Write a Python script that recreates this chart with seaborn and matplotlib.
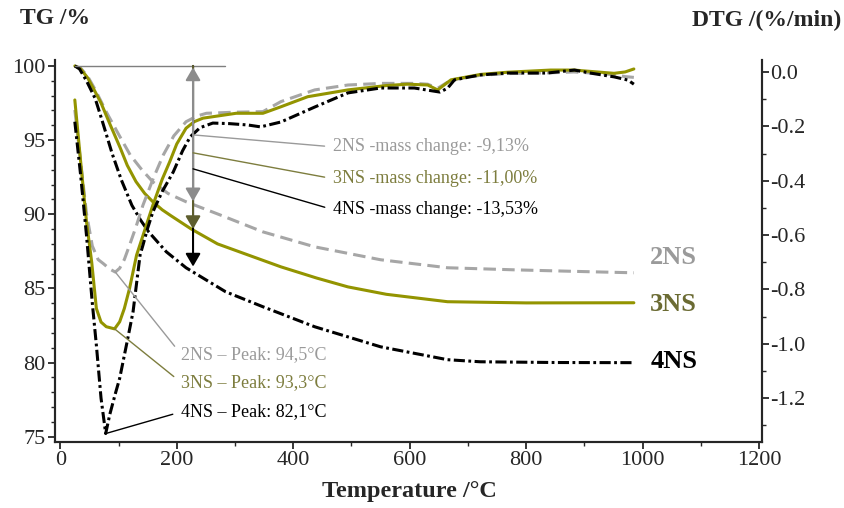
import numpy as np
import pandas as pd
import matplotlib
matplotlib.use("Agg")
import matplotlib.pyplot as plt
import seaborn as sns

# TG curves (mass, %)
tg_2ns_t = [25, 35, 47, 60, 79, 100, 120, 140, 159, 185, 216, 274, 348, 437, 550, 665, 780, 880, 985]
tg_2ns = [100, 99.85, 99.3, 98.4, 96.9, 95.4, 94.0, 93.0, 92.18, 91.4, 90.84, 89.96, 88.81, 87.8,
          86.93, 86.39, 86.25, 86.15, 86.05]

tg_3ns_t = [25, 35, 47, 58, 70, 85, 103, 115, 130, 145, 159, 175, 190, 225, 270, 322, 379, 440,
            494, 560, 665, 800, 985]
tg_3ns = [100, 99.8, 99.2, 98.4, 97.5, 96.1, 94.47, 93.3, 92.2, 91.4, 90.84, 90.3, 89.9, 89.0,
          88.0, 87.26, 86.45, 85.7, 85.1, 84.6, 84.1, 84.02, 84.03]

tg_4ns_t = [25, 33, 45, 60, 72, 89, 105, 123, 138, 152, 182, 216, 284, 348, 437, 550, 665, 721,
            850, 985]
tg_4ns = [100, 99.8, 99.0, 97.8, 96.3, 94.1, 92.3, 90.6, 89.6, 88.8, 87.47, 86.39, 84.77, 83.76,
          82.41, 81.06, 80.19, 80.05, 80.0, 79.99]

# DTG curves (%/min)
dtg_2ns_t = [25, 35, 45, 55, 65, 74, 85, 94.5, 102, 110, 119, 130, 142, 160, 177, 195, 216, 235,
             251, 300, 348, 379, 437, 494, 551, 608, 631, 648, 671, 722, 768, 842, 882, 922, 951,
             970, 985]
dtg_2ns = [-0.14, -0.33, -0.52, -0.64, -0.69, -0.705, -0.725, -0.736, -0.722, -0.69,
           -0.637, -0.57, -0.49, -0.39, -0.305, -0.235, -0.183, -0.162, -0.152, -0.148,
           -0.146, -0.109, -0.066, -0.048, -0.042, -0.042, -0.045, -0.06, -0.03, -0.012,
           -0.006, -0.003, 0.0, -0.005, -0.01, -0.017, -0.02]

dtg_3ns_t = [25, 35, 45, 54, 62, 70, 79, 93.3, 102, 110, 119, 131, 145, 159, 175, 188, 200, 216,
             230, 245, 302, 348, 379, 425, 494, 560, 596, 631, 648, 671, 722, 768, 842, 882, 922,
             951, 970, 985]
dtg_3ns = [-0.103, -0.33, -0.55, -0.70, -0.87, -0.92, -0.937, -0.945, -0.919, -0.87,
           -0.796, -0.674, -0.582, -0.49, -0.395, -0.33, -0.265, -0.207, -0.183, -0.17,
           -0.152, -0.152, -0.128, -0.091, -0.066, -0.05, -0.045, -0.048, -0.066, -0.029,
           -0.009, -0.001, 0.007, 0.007, 0.0, -0.005, 0.0, 0.011]

dtg_4ns_t = [25, 35, 45, 55, 62, 70, 78, 85, 95, 102, 115, 125, 137, 142, 150, 159, 175, 194, 210,
             223, 240, 262, 290, 322, 344, 379, 437, 494, 550, 608, 640, 652, 665, 677, 721, 768,
             836, 883, 910, 951, 975, 985]
dtg_4ns = [-0.183, -0.38, -0.60, -0.85, -1.005, -1.20, -1.33, -1.26, -1.18, -1.127,
           -0.99, -0.882, -0.674, -0.637, -0.575, -0.515, -0.44, -0.368, -0.29, -0.239,
           -0.205, -0.188, -0.19, -0.195, -0.202, -0.184, -0.129, -0.077, -0.059, -0.059,
           -0.07, -0.074, -0.06, -0.029, -0.011, -0.004, -0.004, 0.007, -0.004, -0.018,
           -0.03, -0.045]

samples = ["2NS", "3NS", "4NS"]
mass_change = [-9.13, -11.00, -13.53]
peak_temp = ["94,5", "93,3", "82,1"]

line_col = ["#a6a6a6", "#939400", "#000000"]
text_col = ["#9a9a9a", "#7d7d3e", "#000000"]
label_col = ["#9a9a9a", "#6b6b33", "#000000"]

sns.set_style("ticks")
plt.rcParams["font.family"] = ["Liberation Serif", "DejaVu Serif"]
plt.rcParams["axes.unicode_minus"] = False
plt.rcParams["lines.scale_dashes"] = False

fig = plt.figure(figsize=(8.44, 5.08), dpi=100)
ax = fig.add_axes([0.0652, 0.1305, 0.8376, 0.7514])
ax2 = ax.twinx()

dash_2 = (9, 4.5)
dash_4 = (8, 2.5, 2, 2.5)

tg_sets = [(tg_2ns_t, tg_2ns), (tg_3ns_t, tg_3ns), (tg_4ns_t, tg_4ns)]
dtg_sets = [(dtg_2ns_t, dtg_2ns), (dtg_3ns_t, dtg_3ns), (dtg_4ns_t, dtg_4ns)]
styles = [dash_2, None, dash_4]

for i in range(3):
    t, v = tg_sets[i]
    sns.lineplot(x=t, y=v, ax=ax, color=line_col[i], lw=2.2)
    if styles[i] is not None:
        ax.lines[-1].set_dashes(styles[i])
    t, v = dtg_sets[i]
    sns.lineplot(x=t, y=v, ax=ax2, color=line_col[i], lw=2.2)
    if styles[i] is not None:
        ax2.lines[-1].set_dashes(styles[i])

ax.set_xlim(-9, 1205)
ax.set_ylim(74.66, 100.4)
ax2.set_ylim(-1.36, 0.044)

ax.set_xticks(np.arange(0, 1201, 200))
ax.set_xticks(np.arange(100, 1201, 200), minor=True)
ax.set_yticks(np.arange(75, 101, 5))
ax.set_yticks(np.arange(75, 101, 1), minor=True)
dtg_ticks = np.round(np.arange(0, -1.21, -0.2), 1)
ax2.set_yticks(dtg_ticks)
ax2.set_yticks(np.arange(0, -1.31, -0.1), minor=True)
ax2.set_yticklabels([f"{v:.1f}" if v != 0 else "0.0" for v in dtg_ticks])

for a in (ax, ax2):
    a.set_xlabel("")
    a.set_ylabel("")
    for s in a.spines.values():
        s.set_linewidth(1.5)
    a.spines["top"].set_visible(False)
    a.tick_params(which="major", length=5, width=1.3, labelsize=16, pad=2)
    a.tick_params(which="minor", length=3, width=1.0)
ax2.tick_params(axis="y", which="both", pad=1)

# horizontal reference line at 100 %
ax.plot([25, 283], [100, 100], color="#7f7f7f", lw=1)

tr = ax.transData
arrow_x = 228
head = "-|>,head_length=0.55,head_width=0.32"
ax2.annotate("", xy=(arrow_x, 100 + mass_change[2]), xytext=(arrow_x, 100), xycoords=tr, textcoords=tr,
             arrowprops=dict(arrowstyle=head, color="black", lw=1.5, shrinkA=0, shrinkB=0, mutation_scale=14))
ax2.annotate("", xy=(arrow_x, 100 + mass_change[1]), xytext=(arrow_x, 100), xycoords=tr, textcoords=tr,
             arrowprops=dict(arrowstyle=head, color="#5e5e2e", lw=1.5, shrinkA=0, shrinkB=0, mutation_scale=14))
ax2.annotate("", xy=(arrow_x, 100 + mass_change[0]), xytext=(arrow_x, 99.9), xycoords=tr, textcoords=tr,
             arrowprops=dict(arrowstyle="<|-|>,head_length=0.55,head_width=0.32", color="#8c8c8c", lw=1.5,
                             shrinkA=0, shrinkB=0, mutation_scale=14))

# mass change labels
mc_start = [95.35, 94.14, 93.06]
mc_text_y = [94.54, 92.39, 90.30]
for i in range(3):
    txt = f"{samples[i]} -mass change: {mass_change[i]:.2f}%".replace(".", ",")
    ax2.annotate(txt, xy=(arrow_x, mc_start[i]), xytext=(469, mc_text_y[i]), xycoords=tr, textcoords=tr,
                 ha="left", va="center", fontsize=13, color=text_col[i],
                 arrowprops=dict(arrowstyle="-", color=text_col[i], lw=1, shrinkA=4, shrinkB=0,
                                 relpos=(0, 0.5)))

# peak labels
pk_text_y = [80.53, 78.64, 76.68]
for i in range(3):
    t, v = dtg_sets[i]
    k = int(np.argmin(v))
    ax2.annotate(f"{samples[i]} \u2013 Peak: {peak_temp[i]}\u00b0C", xy=(t[k], v[k]), xycoords="data",
                 xytext=(208, pk_text_y[i]), textcoords=tr, ha="left", va="center", fontsize=13,
                 color=text_col[i],
                 arrowprops=dict(arrowstyle="-", color=text_col[i], lw=1, shrinkA=4, shrinkB=0,
                                 relpos=(0, 0.5)))

# series names
name_y = [87.06, 83.9, 80.05]
for i in range(3):
    ax.text(1013, name_y[i], samples[i], ha="left", va="center", fontsize=19, fontweight="bold",
            color=label_col[i])

fig.text(20 / 844, 1 - 18 / 508, "TG /%", ha="left", va="center", fontsize=17, fontweight="bold")
fig.text(841 / 844, 1 - 20 / 508, "DTG /(%/min)", ha="right", va="center", fontsize=17, fontweight="bold")
fig.text(409 / 844, 1 - 492 / 508, "Temperature /\u00b0C", ha="center", va="center", fontsize=17.5,
         fontweight="bold")

fig.savefig("out.png", dpi=100)
